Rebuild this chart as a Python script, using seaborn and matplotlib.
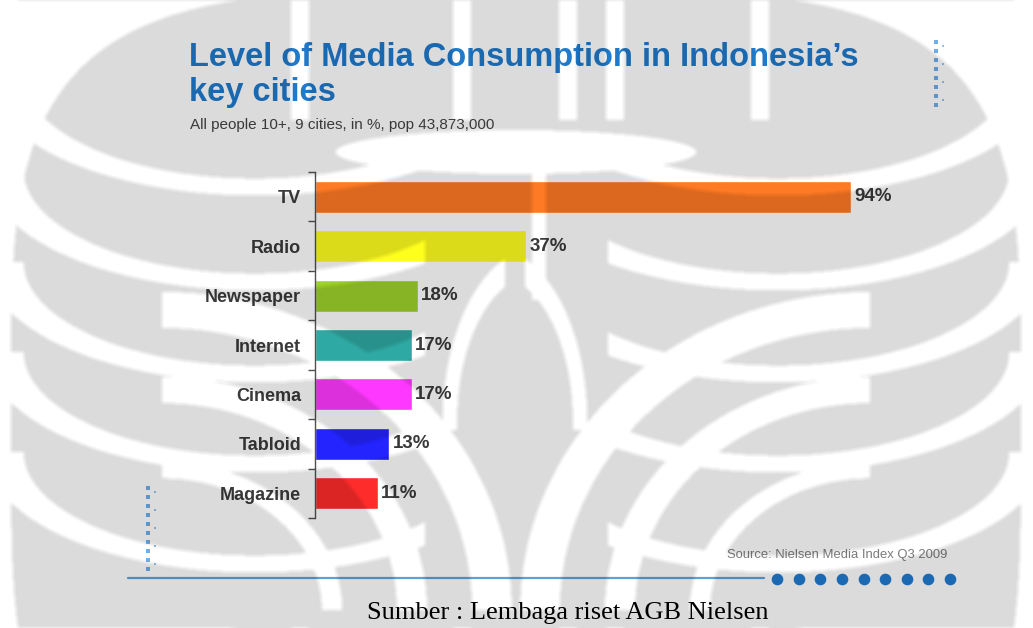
import numpy as np
import pandas as pd
import matplotlib
matplotlib.use("Agg")
import matplotlib.pyplot as plt
from matplotlib.lines import Line2D
import seaborn as sns

# ---- data ----
media = ["TV", "Radio", "Newspaper", "Internet", "Cinema", "Tabloid", "Magazine"]
share = [94, 37, 18, 17, 17, 13, 11]
bar_colors = ["#ff7a24", "#ffff1e", "#9ed22c", "#2fa9a3", "#ff38ff", "#2424ff", "#ff2c2c"]
value_labels = [f"{v}%" for v in share]

title_lines = ["Level of Media Consumption in Indonesia\u2019s", "key cities"]
subtitle = "All people 10+, 9 cities, in %, pop 43,873,000"
source_note = "Source: Nielsen Media Index Q3 2009"
caption = "Sumber : Lembaga riset AGB Nielsen"

W, H = 1033, 628

sns.set_theme(style="white")
plt.rcParams["font.family"] = ["Liberation Sans", "DejaVu Sans"]

fig = plt.figure(figsize=(W / 100, H / 100), dpi=100)
fig.patch.set_facecolor("white")


def fx(px):
    return px / W


def fy(py):
    return 1 - py / H


# ---- bar chart ----
ax = fig.add_axes([fx(315), fy(518), (885 - 315) / W, (518 - 172) / H])
ax.set_facecolor("none")
df = pd.DataFrame({"media": media, "share": share})
sns.barplot(data=df, y="media", x="share", hue="media", order=media,
            hue_order=media, palette=bar_colors, saturation=1, width=0.65,
            legend=False, ax=ax)
ax.set_xlim(0, 100)
ax.set_ylim(len(media) - 0.5, -0.5)
ax.set_xlabel("")
ax.set_ylabel("")
ax.xaxis.set_visible(False)
for side in ("top", "right", "bottom"):
    ax.spines[side].set_visible(False)
ax.spines["left"].set_color("#505050")
ax.spines["left"].set_linewidth(1.0)

ax.set_yticks(range(len(media)))
ax.set_yticklabels(media, fontsize=13, fontweight="bold", color="#3a3a3a")
ax.tick_params(axis="y", which="major", length=0, pad=10)
ax.set_yticks(np.arange(-0.5, len(media)), minor=True)
ax.tick_params(axis="y", which="minor", length=5, width=1, color="#505050",
               direction="out", left=True)

for cont, lab in zip(ax.containers, value_labels):
    ax.bar_label(cont, labels=[lab], padding=2.5, fontsize=13.5,
                 fontweight="bold", color="#3a3a3a")

# ---- titles and notes ----
fig.text(fx(189), fy(66), title_lines[0], fontsize=23.5, fontweight="bold",
         color="#1f7acc", va="baseline")
fig.text(fx(189), fy(101), title_lines[1], fontsize=23.5, fontweight="bold",
         color="#1f7acc", va="baseline")
fig.text(fx(190), fy(129), subtitle, fontsize=11, color="#444444",
         va="baseline")
fig.text(fx(727), fy(558), source_note, fontsize=9.4, color="#7a7a7a",
         va="baseline")
fig.text(fx(568), fy(619), caption, fontsize=19, color="black",
         family=["Liberation Serif", "DejaVu Serif"], ha="center",
         va="baseline")

# ---- footer rule with dots, small emblem marks ----
fig.add_artist(Line2D([fx(128), fx(764)], [fy(578), fy(578)],
                      transform=fig.transFigure, color="#5da3da", lw=1.6))
deco = fig.add_axes([0, 0, 1, 1], zorder=-1)
deco.set_xlim(0, W)
deco.set_ylim(H, 0)
deco.axis("off")
deco.scatter(np.linspace(777, 950, 9), np.full(9, 579), s=70,
             color="#1f7bd0", linewidths=0)
for x0, y0, y1 in ((936, 42, 106), (148, 488, 572)):
    ys = np.arange(y0, y1, 9)
    deco.scatter(np.full(ys.size, x0), ys, s=7, marker="s",
                 color="#4a9ae6", alpha=0.8, linewidths=0)
    deco.scatter(np.full(ys[::2].size, x0 + 7), ys[::2] + 4, s=4, marker="s",
                 color="#4a9ae6", alpha=0.6, linewidths=0)

# ---- faint emblem watermark laid over the page ----
yy, xx = np.mgrid[0:H, 0:W] + 0.5


def inside(cx, cy, a, b, p=2.0):
    return np.abs((xx - cx) / a) ** p + np.abs((yy - cy) / b) ** p <= 1


def band(cx, cy, a, b, t):
    r = np.sqrt(((xx - cx) / a) ** 2 + ((yy - cy) / b) ** 2)
    return np.abs(r - 1) < t


mask = inside(516, 420, 505, 430, p=4)
# narrow upright gaps across the crown
for gx in (300, 462, 568, 615, 760):
    mask &= ~((np.abs(xx - gx) < 9) & (yy < 120))
mask &= ~inside(516, 152, 180, 22)
# curved gaps in the two wings
for y0 in (75, 170, 262, 352, 452):
    for cx, lim in ((255, lambda c: xx < c + 170), (778, lambda c: xx > c - 170)):
        gap = band(cx, y0, 250, 112, 0.075) & (yy > y0) & lim(cx)
        mask &= ~gap
# arching gaps either side of the central stem
for a, b in ((330, 300), (250, 220), (170, 140)):
    for cx, side in ((870, xx < 870), (162, xx > 162)):
        mask &= ~(band(cx, 610, a, b, 0.06) & (yy < 610) & side)
# the central stem outline
mask &= ~(band(540, 420, 90, 160, 0.08) & (xx < 505) & (yy < 430))
mask &= ~(band(490, 420, 90, 160, 0.08) & (xx > 525) & (yy < 430))
mask &= ~((xx > 532) & (xx < 546) & (yy > 150) & (yy < 300))

soft = mask.astype(float)
for axis in (0, 1):
    soft = sum(np.roll(soft, k, axis=axis) for k in range(-2, 3)) / 5.0

overlay = np.zeros((H, W, 4))
overlay[..., 3] = 0.145 * soft
wm = fig.add_axes([0, 0, 1, 1], zorder=10)
wm.imshow(overlay, extent=(0, W, H, 0), interpolation="bilinear")
wm.set_xlim(0, W)
wm.set_ylim(H, 0)
wm.axis("off")

fig.savefig("out.png", dpi=100, facecolor="white")
